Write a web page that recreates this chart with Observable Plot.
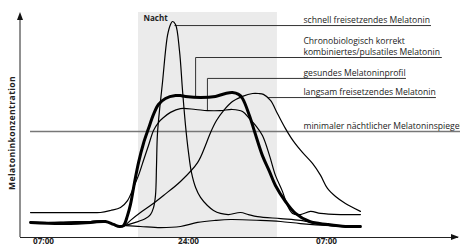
<!DOCTYPE html>
<html><head><meta charset="utf-8">
<script src="https://cdn.jsdelivr.net/npm/d3@7"></script>
<script src="https://cdn.jsdelivr.net/npm/@observablehq/plot@0.6"></script>
<style>
html,body{margin:0;padding:0;background:#fff;overflow:hidden;}
#chart svg{display:block;font-family:"Open Sans",sans-serif;overflow:hidden;}
#chart svg .ylab text{letter-spacing:0.4px;}
</style></head><body><div id="chart"></div>
<script>
// x: hours since 07:00 (schematic, piecewise time axis); y: relative melatonin concentration
const tickValues = [0, 17, 24];
const tickLabels = ["07:00", "24:00", "07:00"];
const nightSpan = [11.14, 21.51];
const minLevel = 47.1;
const minStart = -1.52;

const schnell = [[-1.52,6.7],[1.99,6.7],[5.51,7.1],[7.27,7.1],[8.21,5.8],[8.91,4.9],[9.50,5.3],[10.79,6.7],[11.96,8.4],[12.54,10.2],[12.90,13.3],[13.13,18.7],[13.25,32.0],[13.37,46.7],[13.95,68.9],[14.54,89.8],[14.89,94.7],[15.12,96.0],[15.48,94.7],[15.94,83.1],[16.30,65.3],[16.65,49.8],[17.00,37.8],[17.15,28.9],[17.36,22.2],[17.61,17.8],[17.96,14.2],[18.27,12.0],[18.62,10.7],[19.03,10.2],[19.64,11.1],[20.04,10.2],[20.50,9.3],[21.67,8.4],[22.68,7.6],[23.70,5.8],[24.71,4.9],[25.72,4.9]];
const pulsatil = [[-1.52,6.7],[1.99,6.2],[5.51,6.7],[7.27,7.1],[8.21,5.8],[8.91,4.9],[9.38,5.3],[9.85,9.8],[10.20,14.7],[10.67,24.4],[11.14,33.3],[11.72,41.8],[12.31,48.4],[12.90,54.7],[13.48,59.1],[14.30,61.8],[15.48,63.1],[16.06,63.1],[16.65,62.7],[17.61,62.2],[18.37,62.7],[18.88,64.0],[19.23,64.4],[19.54,63.6],[19.74,61.8],[20.09,54.2],[20.35,47.1],[20.75,36.4],[21.11,29.3],[21.41,23.1],[21.92,16.0],[22.43,10.7],[23.14,7.1],[24.05,5.8],[24.96,4.9],[25.72,4.9]];
const gesund = [[-1.52,11.1],[1.99,11.1],[5.51,11.1],[6.68,11.1],[7.86,12.0],[9.03,13.3],[9.85,16.4],[10.55,22.2],[11.14,27.6],[11.72,34.2],[12.31,40.9],[12.90,47.6],[13.48,51.1],[14.07,53.3],[14.89,55.6],[16.06,57.3],[17.36,56.9],[17.96,56.4],[18.62,56.4],[19.23,56.9],[19.74,56.0],[20.09,52.9],[20.40,49.8],[20.75,45.3],[21.11,36.4],[21.41,27.6],[21.77,20.4],[22.02,14.2],[22.28,10.7],[22.68,10.2],[23.19,11.6],[23.70,10.7],[24.71,10.2],[25.72,10.2]];
const langsam = [[-1.52,6.7],[1.99,6.7],[5.51,7.1],[7.27,7.1],[8.21,5.8],[8.91,4.9],[9.50,5.3],[10.20,7.6],[11.37,11.1],[12.54,14.2],[14.07,18.7],[16.06,24.9],[17.46,33.3],[17.86,40.9],[18.12,46.7],[18.42,52.0],[18.78,56.4],[19.23,60.4],[19.74,62.7],[20.25,64.0],[20.55,64.0],[20.80,63.6],[21.16,60.9],[21.51,55.1],[21.92,48.4],[22.33,42.7],[22.78,37.8],[23.29,32.9],[23.70,27.6],[24.05,21.8],[24.46,18.2],[24.96,15.1],[25.72,11.6]];
const flach = [[-1.52,6.7],[1.99,6.7],[5.51,7.1],[7.27,7.1],[8.21,5.8],[8.91,4.9],[9.50,5.3],[11.37,4.9],[13.72,4.4],[16.06,4.9],[17.46,6.7],[18.37,7.6],[19.13,8.0],[20.65,7.6],[21.67,7.1],[22.68,6.2],[24.20,5.3],[25.72,4.9]];

const labelNames = ["schnell freisetzendes Melatonin", "Chronobiologisch korrekt\nkombiniertes/pulsatiles Melatonin", "gesundes Melatoninprofil", "langsam freisetzendes Melatonin", "minimaler nächtlicher Melatoninspiegel"];
const labelX = 22.83;
const labelLevels = [94.2, 80.0, 70.7, 62.2, 47.1];
const leaderSchnell = [[15.40,94.2],[29.28,94.2]];
const leaderPulsatil = [[17.36,62.7],[17.36,80.0],[29.83,80.0]];
const leaderGesund = [[17.96,56.4],[17.96,70.7],[28.01,70.7]];
const leaderLangsam = [[21.06,62.2],[29.53,62.2]];

const toRows = (name, arr) => arr.map(([t, v]) => ({name, t, v}));
const thin = [...toRows("schnell", schnell), ...toRows("gesund", gesund), ...toRows("langsam", langsam), ...toRows("flach", flach)];
const bold = toRows("pulsatil", pulsatil);
const leaders = [...toRows("s", leaderSchnell), ...toRows("p", leaderPulsatil), ...toRows("g", leaderGesund), ...toRows("l", leaderLangsam)];
const labels = labelNames.map((text, i) => ({text, t: labelX, v: labelLevels[i]}));
const ticks = tickValues.map((t, i) => ({t, label: tickLabels[i]}));

const W = 460, H = 247, ML = 20, MR = 2, MT = 12, MB = 10;
const plot = Plot.plot({
  width: W, height: H,
  marginLeft: ML, marginRight: MR, marginTop: MT, marginBottom: MB,
  style: {fontFamily: "'Open Sans', sans-serif", background: "#fff"},
  x: {type: "linear", domain: [0, 17, 24], range: [43, 188, 326], axis: null},
  y: {domain: [0, 100], axis: null},
  marks: [
    Plot.rect([nightSpan], {x1: d => d[0], x2: d => d[1], y1: 0, y2: 100, fill: "#ebebeb"}),
    Plot.ruleY([minLevel], {x1: minStart, x2: 32, stroke: "#777", strokeWidth: 1.5}),
    Plot.line(leaders, {x: "t", y: "v", z: "name", stroke: "#333", strokeWidth: 1}),
    Plot.line(thin, {x: "t", y: "v", z: "name", curve: "catmull-rom", stroke: "#000", strokeWidth: 1.2}),
    Plot.line(bold, {x: "t", y: "v", curve: "catmull-rom", stroke: "#000", strokeWidth: 3}),
    Plot.ruleY([0], {stroke: "#222", strokeWidth: 1}),
    Plot.text(labels, {x: "t", y: "v", text: "text", textAnchor: "start", lineAnchor: "bottom", dy: -2.5, lineHeight: 1.25, fontSize: 8.6, fill: "#222"}),
    Plot.text(["Nacht"], {x: nightSpan[0], y: 100, text: d => d, textAnchor: "start", lineAnchor: "top", dx: 5, dy: 3, fontSize: 8, fontWeight: "bold", fill: "#222"}),
    Plot.text(ticks, {x: "t", text: "label", frameAnchor: "bottom", lineAnchor: "top", dy: 1, fontSize: 8.2, fontWeight: "bold", fill: "#222"}),
    Plot.text(["Melatoninkonzentration"], {text: d => d, frameAnchor: "left", textAnchor: "middle", rotate: -90, dx: -8, dy: 8, fontSize: 8.6, fontWeight: "bold", fill: "#222", className: "ylab"})
  ]
});
const svg = d3.select(plot);
svg.append("line").attr("x1", ML).attr("x2", ML).attr("y1", H - MB).attr("y2", MT + 6).attr("stroke", "#222").attr("stroke-width", 1);
svg.append("path").attr("d", `M${ML},${MT} L${ML + 3},${MT + 8} L${ML - 3},${MT + 8} Z`).attr("fill", "#111");
svg.append("path").attr("d", `M${W - 1},${H - MB} L${W - 9},${H - MB - 3} L${W - 9},${H - MB + 3} Z`).attr("fill", "#111");
document.getElementById("chart").append(plot);
</script>
</body></html>
